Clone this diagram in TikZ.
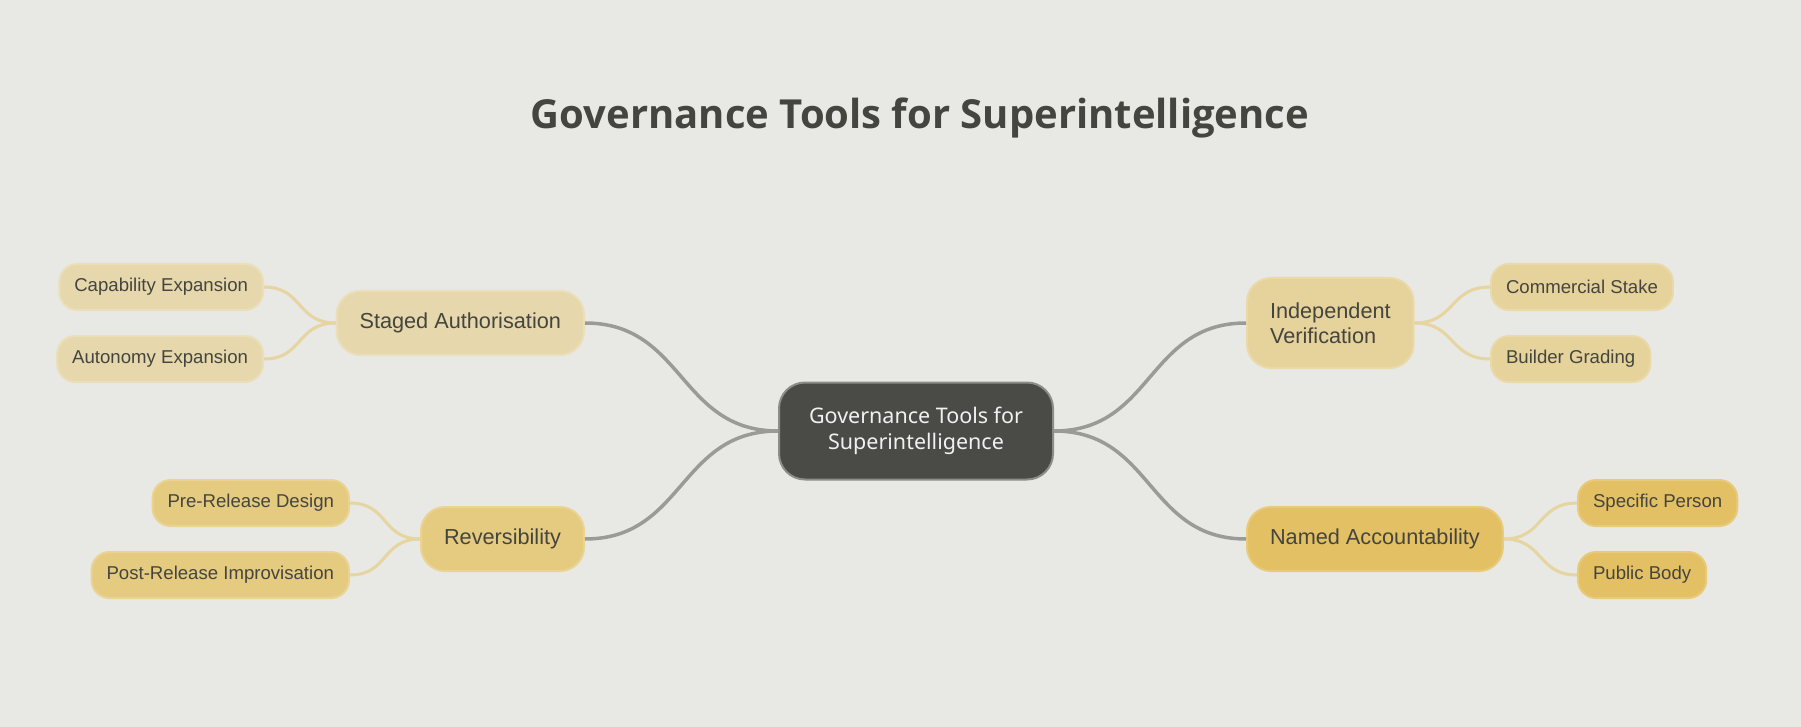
\documentclass[tikz,border=0pt]{standalone}
\usepackage{fontspec}
\setmainfont{Liberation Sans}
\newfontfamily\notofont{Noto Sans}
\newfontfamily\titlefont{Open Sans}
\usetikzlibrary{positioning}

\definecolor{bgcol}{HTML}{E8E8E4}
\definecolor{inkcol}{HTML}{45453F}
\definecolor{hubfill}{HTML}{4A4B46}
\definecolor{hubline}{HTML}{8C8C88}
\definecolor{trunkcol}{HTML}{9A9A96}
\definecolor{twigcol}{HTML}{E6D5A0}
\definecolor{stagedfill}{HTML}{E6D8AC}
\definecolor{stagedline}{HTML}{EBDFB9}
\definecolor{revfill}{HTML}{E5CB80}
\definecolor{revline}{HTML}{EAD393}
\definecolor{verifill}{HTML}{E5D39B}
\definecolor{veriline}{HTML}{EADAAA}
\definecolor{namedfill}{HTML}{E3C063}
\definecolor{namedline}{HTML}{E9CA7A}

\tikzset{
  hubnode/.style={draw=hubline, fill=hubfill, line width=2pt, rounded corners=26pt,
    minimum width=274pt, minimum height=97pt, align=center, text=white!92!hubfill,
    font=\notofont\fontsize{21.5pt}{25.5pt}\selectfont},
  branchnode/.style={line width=2pt, rounded corners=24pt, minimum height=64pt,
    inner xsep=23pt, align=left, text=inkcol, font=\fontsize{21.7pt}{25.5pt}\selectfont},
  leafnode/.style={line width=2pt, rounded corners=18pt, minimum height=46pt,
    inner xsep=15pt, text=inkcol, font=\fontsize{18.6pt}{22pt}\selectfont},
  staged/.style={draw=stagedline, fill=stagedfill},
  rev/.style={draw=revline, fill=revfill},
  veri/.style={draw=veriline, fill=verifill},
  named/.style={draw=namedline, fill=namedfill},
  trunk/.style={draw=trunkcol, line width=3.5pt, out=#1, in=180-#1, looseness=1.15},
  twig/.style={draw=twigcol, line width=3pt, out=#1, in=180-#1, looseness=1.25}
}

\begin{document}
\begin{tikzpicture}[x=1pt, y=-1pt]
  \fill[bgcol] (0,0) rectangle (1801,727);
  \useasboundingbox (0,0) rectangle (1801,727);

  \node[font=\titlefont\bfseries\fontsize{40pt}{48pt}\selectfont, text=inkcol] (title) at (920,118)
    {Governance Tools for Superintelligence};

  \node[hubnode] (hub) at (916,431) {Governance Tools for\\ Superintelligence};

  \node[branchnode, staged, anchor=east] (staged) at (585,323) {Staged Authorisation};
  \node[branchnode, rev, anchor=east] (rev) at (585,539) {Reversibility};
  \node[branchnode, veri, anchor=west, minimum height=90pt, inner ysep=8pt] (veri) at (1246,323)
    {Independent\\Verification};
  \node[branchnode, named, anchor=west] (named) at (1246,539) {Named Accountability};

  \node[leafnode, staged, anchor=east] (capab) at (264,287) {Capability Expansion};
  \node[leafnode, staged, anchor=east] (auton) at (264,359) {Autonomy Expansion};
  \node[leafnode, rev, anchor=east] (prerel) at (350,503) {Pre-Release Design};
  \node[leafnode, rev, anchor=east] (postrel) at (350,575) {Post-Release Improvisation};
  \node[leafnode, veri, anchor=west] (stake) at (1490,287) {Commercial Stake};
  \node[leafnode, veri, anchor=west] (grading) at (1490,359) {Builder Grading};
  \node[leafnode, named, anchor=west] (person) at (1577,503) {Specific Person};
  \node[leafnode, named, anchor=west] (body) at (1577,575) {Public Body};

  \path (hub.west) edge[trunk=180] (staged.east)
        (hub.west) edge[trunk=180] (rev.east)
        (hub.east) edge[trunk=0] (veri.west)
        (hub.east) edge[trunk=0] (named.west);
  \path (staged.west) edge[twig=180] (capab.east)
        (staged.west) edge[twig=180] (auton.east)
        (rev.west) edge[twig=180] (prerel.east)
        (rev.west) edge[twig=180] (postrel.east)
        (veri.east) edge[twig=0] (stake.west)
        (veri.east) edge[twig=0] (grading.west)
        (named.east) edge[twig=0] (person.west)
        (named.east) edge[twig=0] (body.west);
\end{tikzpicture}
\end{document}
